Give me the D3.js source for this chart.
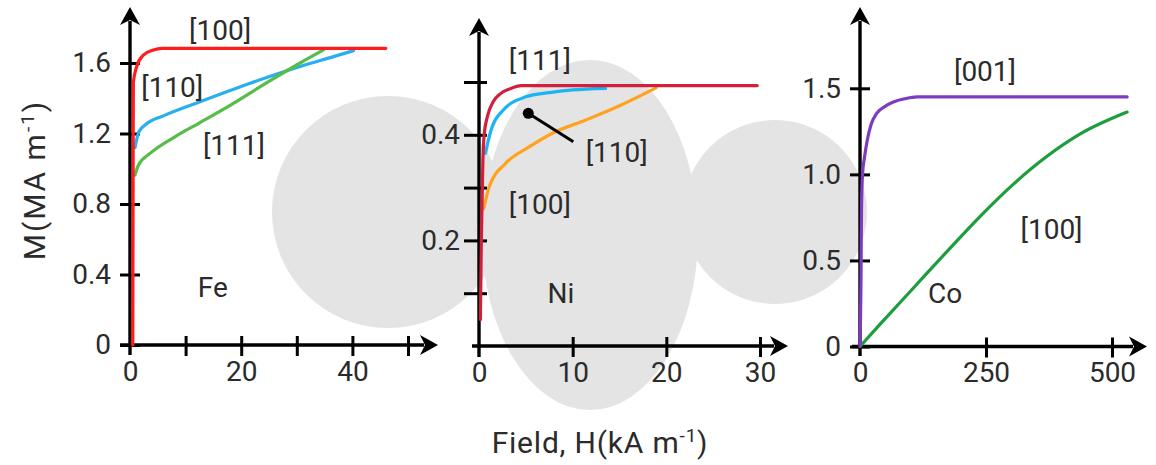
<!DOCTYPE html>
<html><head><meta charset="utf-8">
<script src="https://cdn.jsdelivr.net/npm/d3@7"></script>
<style>
body{margin:0;background:#fff}
text{font-family:Roboto,"Open Sans",sans-serif;fill:#2b2b2b}
</style>
</head><body>
<svg id="chart" width="1156" height="465"></svg>
<script>
// ---------- DATA ----------
// Fe
const feH100=[0.5,0.55,0.6,1.2,2.4,4.2,5.7,46];
const feM100=[0,0.8,1.49,1.58,1.645,1.674,1.683,1.683];
const feH110=[0.9,1.6,3,6,12.6,21.6,30.6,36.6,40.2];
const feM110=[1.12,1.21,1.255,1.3,1.38,1.485,1.58,1.636,1.67];
const feH111=[0.9,1.5,3.6,8,12.6,18,25.2,30.6,34.8];
const feM111=[0.965,1.02,1.087,1.18,1.262,1.36,1.5,1.6,1.674];
const feXTicks=[10,20,30,40,50], feXTickLabels=[0,20,40];
const feYTicks=[0,0.4,0.8,1.2,1.6], feYTickLabels=["0","0.4","0.8","1.2","1.6"];
// Ni
const niH111=[0.15,0.25,0.4,0.55,0.9,1.5,2.3,3.3,4.5,29.7];
const niM111=[0.05,0.2,0.34,0.4,0.435,0.462,0.478,0.487,0.493,0.493];
const niH110=[0.7,1,1.4,2.5,5,7.5,10,13.5];
const niM110=[0.365,0.39,0.415,0.445,0.472,0.48,0.485,0.488];
const niH100=[0.5,1.1,2.85,5.35,7.84,11.4,15,18.9];
const niM100=[0.26,0.302,0.346,0.377,0.403,0.428,0.455,0.489];
const niXTicks=[10,20,30], niXTickLabels=[0,10,20,30];
const niYTicks=[0.1,0.2,0.3,0.4,0.5], niYTickLabels=["0.2","0.4"];
const niPointerH=[5.26,10.07], niPointerM=[0.4407,0.387];
// Co
const coH001=[0,2,3,5,9,14.5,22,33,50,66,90,113,530];
const coM001=[0,0.4,0.8,1.0,1.1,1.2,1.29,1.354,1.395,1.42,1.44,1.45,1.45];
const coH100=[0,40,106,172,238,305,371,437,530];
const coM100=[0,0.13,0.34,0.55,0.755,0.945,1.105,1.235,1.362];
const coXTicks=[250,500], coXTickLabels=[0,250,500];
const coYTicks=[0,0.5,1.0,1.5], coYTickLabels=["0","0.5","1.0","1.5"];

const zip=(H,M)=>H.map((h,i)=>[h,M[i]]);

// ---------- PANELS ----------
const panels=[
 {xDom:[0,50],xRng:[130,408],yDom:[0,1.6],yRng:[345,63],yTip:7,xTip:438,xStart:120,yBottom:355,
  xTicks:feXTicks,xLabels:feXTickLabels,yTicks:feYTicks,yLabelVals:feYTicks,yLabels:feYTickLabels,
  tickL:10,tickR:10,
  series:[{d:zip(feH110,feM110),c:"#29aef0"},{d:zip(feH111,feM111),c:"#55bd48"},{d:zip(feH100,feM100),c:"#ff1c1c"}],
  labels:[{t:"[100]",h:16.2,m:1.73},{t:"[110]",h:7.6,m:1.407},{t:"[111]",h:18.7,m:1.078},{t:"Fe",h:14.9,m:0.272}]},
 {xDom:[0,30],xRng:[479,760],yDom:[0,0.5],yRng:[346,82],yTip:18,xTip:788,xStart:472,yBottom:357,
  xTicks:niXTicks,xLabels:niXTickLabels,yTicks:niYTicks,yLabelVals:[0.2,0.4],yLabels:niYTickLabels,
  tickL:15,tickR:8,
  series:[{d:zip(niH100,niM100),c:"#ffa21f"},{d:zip(niH110,niM110),c:"#1cb4f2"},{d:zip(niH111,niM111),c:"#d2203c"}],
  labels:[{t:"[111]",h:6.5,m:0.523},{t:"[110]",h:14.7,m:0.348},{t:"[100]",h:6.5,m:0.25},{t:"Ni",h:8.75,m:0.081}],
  pointer:zip(niPointerH,niPointerM)},
 {xDom:[0,500],xRng:[860,1112],yDom:[0,1.5],yRng:[346.5,88.3],yTip:7,xTip:1147,xStart:852,yBottom:356,
  xTicks:coXTicks,xLabels:coXTickLabels,yTicks:coYTicks,yLabelVals:coYTicks,yLabels:coYTickLabels,
  tickL:10,tickR:10,
  series:[{d:zip(coH100,coM100),c:"#1c9e3e"},{d:zip(coH001,coM001),c:"#7c3cc0"}],
  labels:[{t:"[001]",h:248,m:1.542},{t:"[100]",h:380,m:0.624},{t:"Co",h:169,m:0.252}]}
];

const svg=d3.select("#chart");
svg.append("rect").attr("width",1156).attr("height",465).attr("fill","#fff");

// faint background watermark shapes
const wm=svg.append("g").attr("fill","#e4e4e4");
wm.append("ellipse").attr("cx",590).attr("cy",235).attr("rx",108).attr("ry",175);
wm.append("circle").attr("cx",388).attr("cy",212).attr("r",116);
wm.append("circle").attr("cx",775).attr("cy",212).attr("r",92);

const FS=28;
panels.forEach(p=>{
  const x=d3.scaleLinear(p.xDom,p.xRng), y=d3.scaleLinear(p.yDom,p.yRng);
  const x0=x(0), y0=y(0);
  const g=svg.append("g");
  g.append("line").attr("x1",x0).attr("x2",x0).attr("y1",p.yBottom).attr("y2",p.yTip+14)
    .attr("stroke","#000").attr("stroke-width",3.4);
  g.append("line").attr("x1",p.xStart).attr("x2",p.xTip-14).attr("y1",y0).attr("y2",y0)
    .attr("stroke","#000").attr("stroke-width",3.4);
  const L=18,W=10;
  g.append("path").attr("d",`M${x0},${p.yTip}L${x0+W},${p.yTip+L}L${x0},${p.yTip+L-5}L${x0-W},${p.yTip+L}Z`).attr("fill","#000");
  g.append("path").attr("d",`M${p.xTip},${y0}L${p.xTip-L},${y0-W}L${p.xTip-L+5},${y0}L${p.xTip-L},${y0+W}Z`).attr("fill","#000");
  const xt=g.append("g").attr("transform",`translate(0,${y0-9})`)
    .call(d3.axisBottom(x).tickValues(p.xTicks).tickSize(20).tickFormat(""));
  xt.select(".domain").remove();
  xt.selectAll("line").attr("stroke","#000").attr("stroke-width",3);
  const yt=g.append("g").attr("transform",`translate(${x0+p.tickR},0)`)
    .call(d3.axisLeft(y).tickValues(p.yTicks).tickSize(p.tickL+p.tickR).tickFormat(""));
  yt.select(".domain").remove();
  yt.selectAll("line").attr("stroke","#000").attr("stroke-width",3);
  const xl=g.append("g").attr("transform",`translate(0,${y0})`)
    .call(d3.axisBottom(x).tickValues(p.xLabels).tickSize(0).tickPadding(16).tickFormat(d=>String(d)));
  xl.select(".domain").remove();
  xl.selectAll("text").attr("font-size",FS).attr("fill","#2b2b2b").attr("font-family","Roboto");
  const yl=g.append("g").attr("transform",`translate(${x0},0)`)
    .call(d3.axisLeft(y).tickValues(p.yLabelVals).tickSize(0).tickPadding(19).tickFormat((d,i)=>p.yLabels[i]));
  yl.select(".domain").remove();
  yl.selectAll("text").attr("font-size",FS).attr("fill","#2b2b2b").attr("font-family","Roboto");
  const line=d3.line().x(d=>x(d[0])).y(d=>y(d[1])).curve(d3.curveMonotoneX);
  p.series.forEach(s=>{
    g.append("path").attr("d",line(s.d)).attr("fill","none").attr("stroke",s.c)
      .attr("stroke-width",3.2).attr("stroke-linecap","round").attr("stroke-linejoin","round");
  });
  if(p.pointer){
    g.append("line").attr("x1",x(p.pointer[0][0])).attr("y1",y(p.pointer[0][1]))
      .attr("x2",x(p.pointer[1][0])).attr("y2",y(p.pointer[1][1])).attr("stroke","#000").attr("stroke-width",3);
    g.append("circle").attr("cx",x(p.pointer[0][0])).attr("cy",y(p.pointer[0][1])).attr("r",5.5).attr("fill","#000");
  }
  p.labels.forEach(l=>{
    g.append("text").attr("x",x(l.h)).attr("y",y(l.m)).attr("text-anchor","middle")
      .attr("font-size",FS).text(l.t);
  });
});

const yt=svg.append("text").attr("transform","translate(45,180) rotate(-90)").attr("text-anchor","middle")
  .attr("font-size",30).attr("letter-spacing",2);
yt.append("tspan").text("M(MA m");
yt.append("tspan").attr("font-size",19).attr("dy",-11).text("-1");
yt.append("tspan").attr("dy",11).text(")");
const xtit=svg.append("text").attr("x",600).attr("y",453).attr("text-anchor","middle")
  .attr("font-size",30).attr("letter-spacing",0.8);
xtit.append("tspan").text("Field, H(kA m");
xtit.append("tspan").attr("font-size",19).attr("dy",-11).text("-1");
xtit.append("tspan").attr("dy",11).text(")");
</script>
</body></html>
